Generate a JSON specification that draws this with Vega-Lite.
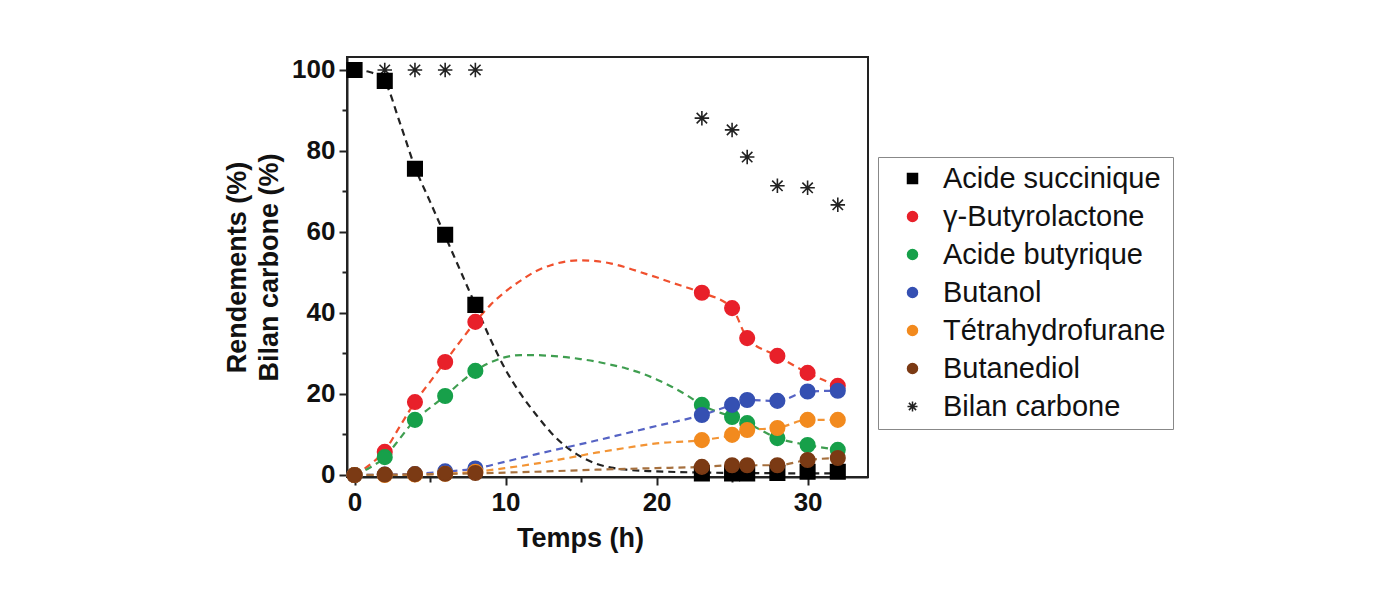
{
  "$schema": "https://vega.github.io/schema/vega-lite/v6.json",
  "width": 521,
  "height": 420,
  "autosize": "none",
  "padding": {"left": 347, "top": 57, "right": 523, "bottom": 114},
  "background": "white",
  "config": {
    "view": {"stroke": "#222", "strokeWidth": 2},
    "font": "Liberation Sans",
    "axis": {
      "grid": false,
      "domainColor": "#222",
      "domainWidth": 2,
      "tickColor": "#222",
      "tickWidth": 2,
      "labelColor": "#111",
      "titleColor": "#111",
      "labelFont": "Liberation Sans",
      "titleFont": "Liberation Sans",
      "labelFontSize": 26,
      "labelFontWeight": "bold",
      "titleFontSize": 27,
      "titleFontWeight": "bold"
    }
  },
  "datasets": {
    "pts": [
      {"t": 0, "v": 100, "s": "Bilan carbone"},
      {"t": 2, "v": 100, "s": "Bilan carbone"},
      {"t": 4, "v": 100, "s": "Bilan carbone"},
      {"t": 6, "v": 100, "s": "Bilan carbone"},
      {"t": 8, "v": 100, "s": "Bilan carbone"},
      {"t": 23, "v": 88.1, "s": "Bilan carbone"},
      {"t": 25, "v": 85.2, "s": "Bilan carbone"},
      {"t": 26, "v": 78.5, "s": "Bilan carbone"},
      {"t": 28, "v": 71.4, "s": "Bilan carbone"},
      {"t": 30, "v": 70.9, "s": "Bilan carbone"},
      {"t": 32, "v": 66.7, "s": "Bilan carbone"},
      {"t": 0, "v": 100, "s": "Acide succinique"},
      {"t": 2, "v": 97.3, "s": "Acide succinique"},
      {"t": 4, "v": 75.6, "s": "Acide succinique"},
      {"t": 6, "v": 59.3, "s": "Acide succinique"},
      {"t": 8, "v": 42, "s": "Acide succinique"},
      {"t": 23, "v": 0.4, "s": "Acide succinique"},
      {"t": 25, "v": 0.4, "s": "Acide succinique"},
      {"t": 26, "v": 0.4, "s": "Acide succinique"},
      {"t": 28, "v": 0.5, "s": "Acide succinique"},
      {"t": 30, "v": 0.8, "s": "Acide succinique"},
      {"t": 32, "v": 0.8, "s": "Acide succinique"},
      {"t": 0, "v": 0, "s": "γ-Butyrolactone"},
      {"t": 2, "v": 5.7, "s": "γ-Butyrolactone"},
      {"t": 4, "v": 18, "s": "γ-Butyrolactone"},
      {"t": 6, "v": 27.9, "s": "γ-Butyrolactone"},
      {"t": 8, "v": 37.8, "s": "γ-Butyrolactone"},
      {"t": 23, "v": 45, "s": "γ-Butyrolactone"},
      {"t": 25, "v": 41.2, "s": "γ-Butyrolactone"},
      {"t": 26, "v": 33.8, "s": "γ-Butyrolactone"},
      {"t": 28, "v": 29.4, "s": "γ-Butyrolactone"},
      {"t": 30, "v": 25.2, "s": "γ-Butyrolactone"},
      {"t": 32, "v": 22, "s": "γ-Butyrolactone"},
      {"t": 0, "v": 0, "s": "Acide butyrique"},
      {"t": 2, "v": 4.4, "s": "Acide butyrique"},
      {"t": 4, "v": 13.6, "s": "Acide butyrique"},
      {"t": 6, "v": 19.5, "s": "Acide butyrique"},
      {"t": 8, "v": 25.7, "s": "Acide butyrique"},
      {"t": 23, "v": 17.3, "s": "Acide butyrique"},
      {"t": 25, "v": 14.3, "s": "Acide butyrique"},
      {"t": 26, "v": 12.8, "s": "Acide butyrique"},
      {"t": 28, "v": 9.1, "s": "Acide butyrique"},
      {"t": 30, "v": 7.4, "s": "Acide butyrique"},
      {"t": 32, "v": 6.2, "s": "Acide butyrique"},
      {"t": 0, "v": 0, "s": "Butanol"},
      {"t": 2, "v": 0.1, "s": "Butanol"},
      {"t": 4, "v": 0.2, "s": "Butanol"},
      {"t": 6, "v": 0.9, "s": "Butanol"},
      {"t": 8, "v": 1.6, "s": "Butanol"},
      {"t": 23, "v": 14.8, "s": "Butanol"},
      {"t": 25, "v": 17.3, "s": "Butanol"},
      {"t": 26, "v": 18.5, "s": "Butanol"},
      {"t": 28, "v": 18.3, "s": "Butanol"},
      {"t": 30, "v": 20.6, "s": "Butanol"},
      {"t": 32, "v": 20.8, "s": "Butanol"},
      {"t": 0, "v": 0, "s": "Tétrahydrofurane"},
      {"t": 2, "v": 0, "s": "Tétrahydrofurane"},
      {"t": 4, "v": 0.1, "s": "Tétrahydrofurane"},
      {"t": 6, "v": 0.3, "s": "Tétrahydrofurane"},
      {"t": 8, "v": 0.8, "s": "Tétrahydrofurane"},
      {"t": 23, "v": 8.6, "s": "Tétrahydrofurane"},
      {"t": 25, "v": 9.9, "s": "Tétrahydrofurane"},
      {"t": 26, "v": 11.1, "s": "Tétrahydrofurane"},
      {"t": 28, "v": 11.6, "s": "Tétrahydrofurane"},
      {"t": 30, "v": 13.6, "s": "Tétrahydrofurane"},
      {"t": 32, "v": 13.6, "s": "Tétrahydrofurane"},
      {"t": 0, "v": 0, "s": "Butanediol"},
      {"t": 2, "v": 0.1, "s": "Butanediol"},
      {"t": 4, "v": 0.2, "s": "Butanediol"},
      {"t": 6, "v": 0.3, "s": "Butanediol"},
      {"t": 8, "v": 0.5, "s": "Butanediol"},
      {"t": 23, "v": 2, "s": "Butanediol"},
      {"t": 25, "v": 2.4, "s": "Butanediol"},
      {"t": 26, "v": 2.4, "s": "Butanediol"},
      {"t": 28, "v": 2.4, "s": "Butanediol"},
      {"t": 30, "v": 3.7, "s": "Butanediol"},
      {"t": 32, "v": 4.2, "s": "Butanediol"}
    ],
    "fit": [
      {"t": 0, "v": 100, "s": "Acide succinique"},
      {"t": 1, "v": 99.5, "s": "Acide succinique"},
      {"t": 2, "v": 97, "s": "Acide succinique"},
      {"t": 3, "v": 87, "s": "Acide succinique"},
      {"t": 4, "v": 76, "s": "Acide succinique"},
      {"t": 5, "v": 67.5, "s": "Acide succinique"},
      {"t": 6, "v": 59, "s": "Acide succinique"},
      {"t": 7, "v": 50.5, "s": "Acide succinique"},
      {"t": 8, "v": 42, "s": "Acide succinique"},
      {"t": 9, "v": 33.5, "s": "Acide succinique"},
      {"t": 10, "v": 26, "s": "Acide succinique"},
      {"t": 11, "v": 20, "s": "Acide succinique"},
      {"t": 12, "v": 15, "s": "Acide succinique"},
      {"t": 13, "v": 10.5, "s": "Acide succinique"},
      {"t": 14, "v": 7, "s": "Acide succinique"},
      {"t": 15, "v": 4.5, "s": "Acide succinique"},
      {"t": 16, "v": 2.8, "s": "Acide succinique"},
      {"t": 17, "v": 1.8, "s": "Acide succinique"},
      {"t": 18, "v": 1.3, "s": "Acide succinique"},
      {"t": 20, "v": 0.9, "s": "Acide succinique"},
      {"t": 23, "v": 0.6, "s": "Acide succinique"},
      {"t": 26, "v": 0.5, "s": "Acide succinique"},
      {"t": 29, "v": 0.4, "s": "Acide succinique"},
      {"t": 32, "v": 0.4, "s": "Acide succinique"},
      {"t": 0, "v": 0, "s": "γ-Butyrolactone"},
      {"t": 1, "v": 2.5, "s": "γ-Butyrolactone"},
      {"t": 2, "v": 6, "s": "γ-Butyrolactone"},
      {"t": 3, "v": 12, "s": "γ-Butyrolactone"},
      {"t": 4, "v": 18, "s": "γ-Butyrolactone"},
      {"t": 5, "v": 23, "s": "γ-Butyrolactone"},
      {"t": 6, "v": 28, "s": "γ-Butyrolactone"},
      {"t": 7, "v": 33, "s": "γ-Butyrolactone"},
      {"t": 8, "v": 37.8, "s": "γ-Butyrolactone"},
      {"t": 9, "v": 42, "s": "γ-Butyrolactone"},
      {"t": 10, "v": 45.3, "s": "γ-Butyrolactone"},
      {"t": 11, "v": 48, "s": "γ-Butyrolactone"},
      {"t": 12, "v": 50.3, "s": "γ-Butyrolactone"},
      {"t": 13, "v": 51.8, "s": "γ-Butyrolactone"},
      {"t": 14, "v": 52.7, "s": "γ-Butyrolactone"},
      {"t": 15, "v": 53, "s": "γ-Butyrolactone"},
      {"t": 16, "v": 52.8, "s": "γ-Butyrolactone"},
      {"t": 17, "v": 52.2, "s": "γ-Butyrolactone"},
      {"t": 18, "v": 51.2, "s": "γ-Butyrolactone"},
      {"t": 19, "v": 50.0, "s": "γ-Butyrolactone"},
      {"t": 20, "v": 48.8, "s": "γ-Butyrolactone"},
      {"t": 21, "v": 47.5, "s": "γ-Butyrolactone"},
      {"t": 22, "v": 46.3, "s": "γ-Butyrolactone"},
      {"t": 23, "v": 45, "s": "γ-Butyrolactone"},
      {"t": 25, "v": 41.2, "s": "γ-Butyrolactone"},
      {"t": 26, "v": 33.8, "s": "γ-Butyrolactone"},
      {"t": 28, "v": 29.4, "s": "γ-Butyrolactone"},
      {"t": 30, "v": 25.2, "s": "γ-Butyrolactone"},
      {"t": 32, "v": 22, "s": "γ-Butyrolactone"},
      {"t": 0, "v": 0, "s": "Acide butyrique"},
      {"t": 1, "v": 1.8, "s": "Acide butyrique"},
      {"t": 2, "v": 4.4, "s": "Acide butyrique"},
      {"t": 3, "v": 9, "s": "Acide butyrique"},
      {"t": 4, "v": 13.6, "s": "Acide butyrique"},
      {"t": 5, "v": 16.6, "s": "Acide butyrique"},
      {"t": 6, "v": 19.5, "s": "Acide butyrique"},
      {"t": 7, "v": 22.8, "s": "Acide butyrique"},
      {"t": 8, "v": 25.7, "s": "Acide butyrique"},
      {"t": 9, "v": 27.8, "s": "Acide butyrique"},
      {"t": 10, "v": 29.1, "s": "Acide butyrique"},
      {"t": 11, "v": 29.6, "s": "Acide butyrique"},
      {"t": 12, "v": 29.6, "s": "Acide butyrique"},
      {"t": 13, "v": 29.4, "s": "Acide butyrique"},
      {"t": 14, "v": 29.1, "s": "Acide butyrique"},
      {"t": 15, "v": 28.6, "s": "Acide butyrique"},
      {"t": 16, "v": 28.0, "s": "Acide butyrique"},
      {"t": 17, "v": 27.2, "s": "Acide butyrique"},
      {"t": 18, "v": 26.3, "s": "Acide butyrique"},
      {"t": 19, "v": 25.1, "s": "Acide butyrique"},
      {"t": 20, "v": 23.6, "s": "Acide butyrique"},
      {"t": 21, "v": 21.8, "s": "Acide butyrique"},
      {"t": 22, "v": 19.7, "s": "Acide butyrique"},
      {"t": 23, "v": 17.3, "s": "Acide butyrique"},
      {"t": 25, "v": 14.3, "s": "Acide butyrique"},
      {"t": 26, "v": 12.8, "s": "Acide butyrique"},
      {"t": 28, "v": 9.1, "s": "Acide butyrique"},
      {"t": 30, "v": 7.4, "s": "Acide butyrique"},
      {"t": 32, "v": 6.2, "s": "Acide butyrique"},
      {"t": 0, "v": 0, "s": "Butanol"},
      {"t": 2, "v": 0.1, "s": "Butanol"},
      {"t": 4, "v": 0.3, "s": "Butanol"},
      {"t": 6, "v": 0.8, "s": "Butanol"},
      {"t": 8, "v": 1.6, "s": "Butanol"},
      {"t": 10, "v": 3.3, "s": "Butanol"},
      {"t": 12, "v": 5.1, "s": "Butanol"},
      {"t": 14, "v": 6.8, "s": "Butanol"},
      {"t": 16, "v": 8.5, "s": "Butanol"},
      {"t": 18, "v": 10.3, "s": "Butanol"},
      {"t": 20, "v": 12.1, "s": "Butanol"},
      {"t": 23, "v": 14.8, "s": "Butanol"},
      {"t": 25, "v": 17.3, "s": "Butanol"},
      {"t": 26, "v": 18.5, "s": "Butanol"},
      {"t": 28, "v": 18.3, "s": "Butanol"},
      {"t": 30, "v": 20.6, "s": "Butanol"},
      {"t": 32, "v": 20.8, "s": "Butanol"},
      {"t": 0, "v": 0, "s": "Tétrahydrofurane"},
      {"t": 2, "v": 0, "s": "Tétrahydrofurane"},
      {"t": 4, "v": 0.1, "s": "Tétrahydrofurane"},
      {"t": 6, "v": 0.3, "s": "Tétrahydrofurane"},
      {"t": 8, "v": 0.8, "s": "Tétrahydrofurane"},
      {"t": 10, "v": 1.7, "s": "Tétrahydrofurane"},
      {"t": 12, "v": 2.8, "s": "Tétrahydrofurane"},
      {"t": 14, "v": 4.1, "s": "Tétrahydrofurane"},
      {"t": 16, "v": 5.5, "s": "Tétrahydrofurane"},
      {"t": 18, "v": 6.7, "s": "Tétrahydrofurane"},
      {"t": 20, "v": 7.8, "s": "Tétrahydrofurane"},
      {"t": 23, "v": 8.6, "s": "Tétrahydrofurane"},
      {"t": 25, "v": 9.9, "s": "Tétrahydrofurane"},
      {"t": 26, "v": 11.1, "s": "Tétrahydrofurane"},
      {"t": 28, "v": 11.6, "s": "Tétrahydrofurane"},
      {"t": 30, "v": 13.6, "s": "Tétrahydrofurane"},
      {"t": 32, "v": 13.6, "s": "Tétrahydrofurane"},
      {"t": 0, "v": 0, "s": "Butanediol"},
      {"t": 4, "v": 0.1, "s": "Butanediol"},
      {"t": 8, "v": 0.4, "s": "Butanediol"},
      {"t": 12, "v": 0.8, "s": "Butanediol"},
      {"t": 16, "v": 1.3, "s": "Butanediol"},
      {"t": 20, "v": 1.7, "s": "Butanediol"},
      {"t": 23, "v": 2, "s": "Butanediol"},
      {"t": 25, "v": 2.4, "s": "Butanediol"},
      {"t": 26, "v": 2.4, "s": "Butanediol"},
      {"t": 28, "v": 2.4, "s": "Butanediol"},
      {"t": 30, "v": 3.7, "s": "Butanediol"},
      {"t": 32, "v": 4.2, "s": "Butanediol"}
    ]
  },
  "encoding": {
    "x": {
      "field": "t",
      "type": "quantitative",
      "scale": {"domain": [-0.5, 34], "nice": false, "zero": false},
      "axis": {
        "title": "Temps (h)",
        "values": [0, 5, 10, 15, 20, 25, 30],
        "labelExpr": "datum.value % 10 === 0 ? datum.label : ''",
        "tickSize": {"condition": {"test": "datum.value % 10 === 0", "value": 8}, "value": 5},
        "labelPadding": 4,
        "titlePadding": 10,
        "titleX": 233
      }
    },
    "y": {
      "field": "v",
      "type": "quantitative",
      "scale": {"domain": [-0.5, 103.2], "nice": false, "zero": false},
      "axis": {
        "title": ["Rendements (%)", "Bilan carbone (%)"],
        "titleLineHeight": 32,
        "values": [0, 10, 20, 30, 40, 50, 60, 70, 80, 90, 100],
        "labelExpr": "datum.value % 20 === 0 ? datum.label : ''",
        "tickSize": {"condition": {"test": "datum.value % 20 === 0", "value": 8}, "value": 5},
        "labelPadding": 4,
        "titlePadding": 8
      }
    }
  },
  "layer": [
    {
      "data": {"name": "fit"},
      "mark": {"type": "line", "interpolate": "monotone", "strokeDash": [7, 5], "strokeWidth": 2.2},
      "encoding": {
        "color": {
          "field": "s",
          "type": "nominal",
          "legend": null,
          "scale": {
            "domain": ["Acide succinique", "γ-Butyrolactone", "Acide butyrique", "Butanol", "Tétrahydrofurane", "Butanediol", "Bilan carbone"],
            "range": ["#222222", "#f0502e", "#3f9e50", "#5563c4", "#f39434", "#a6703e", "#222222"]
          }
        },
        "detail": {"field": "s"}
      }
    },
    {
      "data": {"name": "pts"},
      "mark": {"type": "point", "filled": true, "opacity": 1, "size": 210, "strokeWidth": 1.6},
      "encoding": {
        "color": {
          "field": "s",
          "type": "nominal",
          "scale": {
            "domain": ["Acide succinique", "γ-Butyrolactone", "Acide butyrique", "Butanol", "Tétrahydrofurane", "Butanediol", "Bilan carbone"],
            "range": ["#000000", "#e8202a", "#17a04a", "#3550b2", "#f28a1e", "#7b3a14", "#222222"]
          },
          "legend": {
            "orient": "none",
            "legendX": 531,
            "legendY": 100,
            "title": null,
            "strokeColor": "#888888",
            "fillColor": "white",
            "padding": 7,
            "symbolOffset": 13,
            "labelOffset": 16,
            "labelFont": "Liberation Sans",
            "labelFontSize": 29,
            "labelColor": "#111111",
            "labelLimit": 400,
            "rowPadding": 8,
            "symbolSize": 100,
            "symbolStrokeWidth": 1.5
          }
        },
        "stroke": {
          "field": "s",
          "type": "nominal",
          "scale": {
            "domain": ["Acide succinique", "γ-Butyrolactone", "Acide butyrique", "Butanol", "Tétrahydrofurane", "Butanediol", "Bilan carbone"],
            "range": ["#000000", "#e8202a", "#17a04a", "#3550b2", "#f28a1e", "#7b3a14", "#222222"]
          },
          "legend": {
            "orient": "none",
            "legendX": 531,
            "legendY": 100,
            "title": null
          }
        },
        "shape": {
          "field": "s",
          "type": "nominal",
          "scale": {
            "domain": ["Acide succinique", "γ-Butyrolactone", "Acide butyrique", "Butanol", "Tétrahydrofurane", "Butanediol", "Bilan carbone"],
            "range": ["square", "circle", "circle", "circle", "circle", "circle", "M-1,0L1,0M0,-1L0,1M-0.72,-0.72L0.72,0.72M-0.72,0.72L0.72,-0.72"]
          },
          "legend": {
            "orient": "none",
            "legendX": 531,
            "legendY": 100,
            "title": null
          }
        }
      }
    }
  ],
  "resolve": {"scale": {"color": "independent", "stroke": "independent", "shape": "independent"}}
}
